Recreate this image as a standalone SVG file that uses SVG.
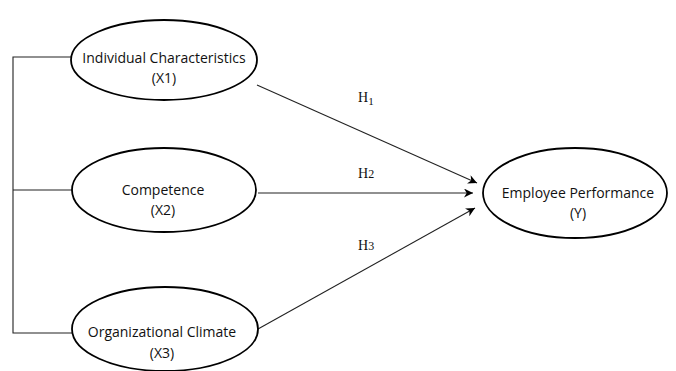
<svg xmlns="http://www.w3.org/2000/svg" width="676" height="371" viewBox="0 0 676 371">
<style>
.node ellipse{fill:#fff;stroke:#000;stroke-width:1.8}
.node text{font-family:"Open Sans","Liberation Sans",sans-serif;font-size:14px;fill:#111;text-anchor:middle}
.lbl{font-family:"Liberation Serif",serif;font-size:14px;fill:#111}
.conn line,.conn polyline{stroke:#222;stroke-width:1.1;fill:none}
</style>
<defs>
<marker id="arr" viewBox="0 0 10 10" refX="10" refY="5" markerWidth="9" markerHeight="9" markerUnits="userSpaceOnUse" orient="auto">
<path d="M0,0 L10,5 L0,10 L3,5 z" fill="#000"/>
</marker>
</defs>
<g class="conn">
<polyline points="71,57 13,57 13,333 72,333"/>
<line x1="13" y1="190" x2="72" y2="190"/>
<line x1="257" y1="85" x2="477" y2="183" marker-end="url(#arr)"/>
<line x1="258" y1="193" x2="473" y2="193" marker-end="url(#arr)"/>
<line x1="258" y1="329" x2="475" y2="208" marker-end="url(#arr)"/>
</g>
<text class="lbl" x="358" y="102">H<tspan font-size="11" dy="3">1</tspan></text>
<text class="lbl" x="358" y="178">H<tspan font-size="12">2</tspan></text>
<text class="lbl" x="358" y="250">H<tspan font-size="12">3</tspan></text>
<g class="node" id="x1">
<ellipse cx="164" cy="60" rx="93" ry="40"/>
<text x="164" y="63">Individual Characteristics</text>
<text x="164" y="83">(X1)</text>
</g>
<g class="node" id="x2">
<ellipse cx="164" cy="190" rx="92" ry="42"/>
<text x="163" y="195">Competence</text>
<text x="163" y="215">(X2)</text>
</g>
<g class="node" id="x3">
<ellipse cx="165" cy="329" rx="93" ry="42"/>
<text x="162" y="337">Organizational Climate</text>
<text x="162" y="358">(X3)</text>
</g>
<g class="node" id="y">
<ellipse cx="575" cy="193" rx="92" ry="45"/>
<text x="578" y="198">Employee Performance</text>
<text x="578" y="218">(Y)</text>
</g>
</svg>
